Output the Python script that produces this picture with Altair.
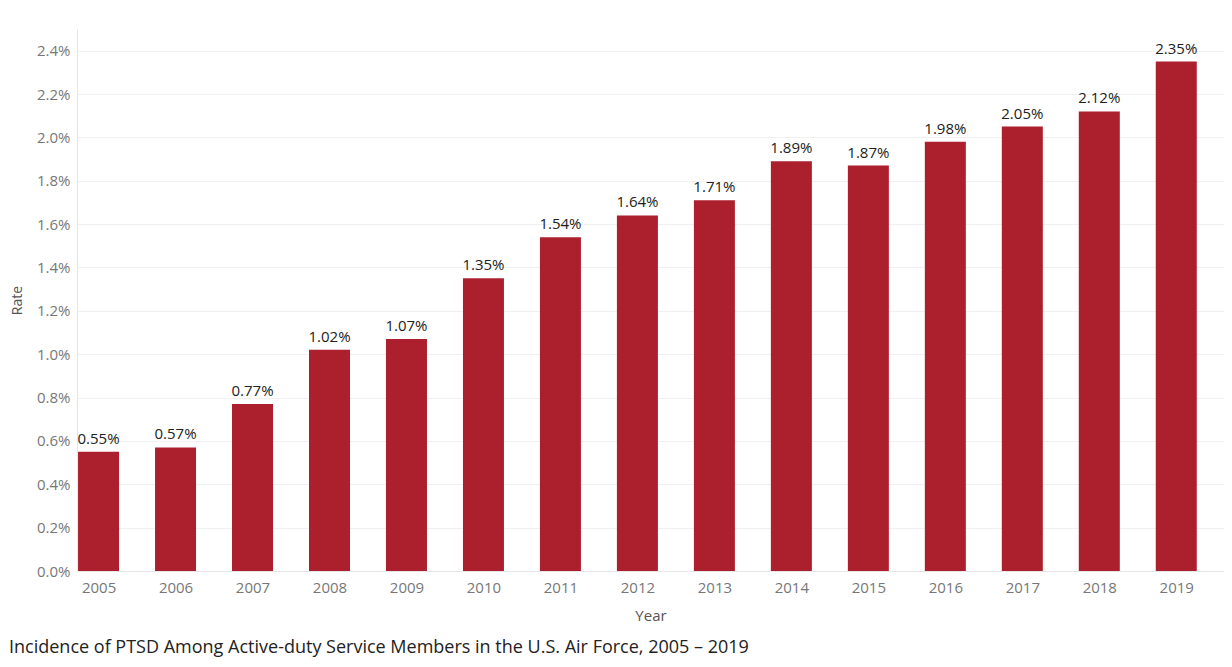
import altair as alt
import pandas as pd

years = [2005, 2006, 2007, 2008, 2009, 2010, 2011, 2012, 2013, 2014, 2015, 2016, 2017, 2018, 2019]
rates = [0.0055, 0.0057, 0.0077, 0.0102, 0.0107, 0.0135, 0.0154, 0.0164, 0.0171, 0.0189,
         0.0187, 0.0198, 0.0205, 0.0212, 0.0235]
y_ticks = [0.000, 0.002, 0.004, 0.006, 0.008, 0.010, 0.012, 0.014, 0.016, 0.018, 0.020, 0.022, 0.024]
caption = "Incidence of PTSD Among Active-duty Service Members in the U.S. Air Force, 2005 \u2013 2019"

df = pd.DataFrame({"Year": years, "Rate": rates})

FONT = "Open Sans"
W, H = 1147, 542

x = alt.X("Year:Q",
          scale=alt.Scale(domain=[2004.72, 2019.62], nice=False, zero=False, padding=0),
          axis=alt.Axis(values=years, format="d", ticks=False, grid=False,
                        domainColor="#e6e6e6", labelColor="#777777", labelFont=FONT,
                        labelFontSize=15, labelPadding=9, title="Year",
                        titleFont=FONT, titleFontSize=15, titleFontWeight="normal",
                        titleColor="#555555", titlePadding=13))
y = alt.Y("Rate:Q",
          scale=alt.Scale(domain=[0, 0.025], nice=False),
          axis=alt.Axis(values=y_ticks, format=".1%", ticks=False, grid=True,
                        gridColor="#f0f0f0", domainColor="#e6e6e6",
                        labelColor="#777777", labelFont=FONT, labelFontSize=15,
                        labelPadding=7, title="Rate", titleFont=FONT, titleFontSize=14,
                        titleFontWeight="normal", titleColor="#555555", titlePadding=12))

base = alt.Chart(df)
bars = base.mark_bar(color="#AC1F2D", size=41).encode(x=x, y=y)
labels = base.mark_text(font=FONT, fontSize=15, color="#222222", dy=-13,
                        baseline="middle").encode(
    x="Year:Q", y="Rate:Q", text=alt.Text("Rate:Q", format=".2%"))

cap = alt.Chart(pd.DataFrame({"t": [caption]})).mark_text(
    font=FONT, fontSize=18, color="#222222", align="left", baseline="middle").encode(
    x=alt.value(-68), y=alt.value(619), text="t:N")

chart = alt.layer(bars, labels, cap).properties(
    width=W, height=H,
    autosize=alt.AutoSizeParams(type="none"),
    padding={"left": 69, "top": 21, "right": 0, "bottom": 88},
).configure_view(stroke=None)

chart.save("out.html", embed_options={"renderer": "svg", "actions": False})
